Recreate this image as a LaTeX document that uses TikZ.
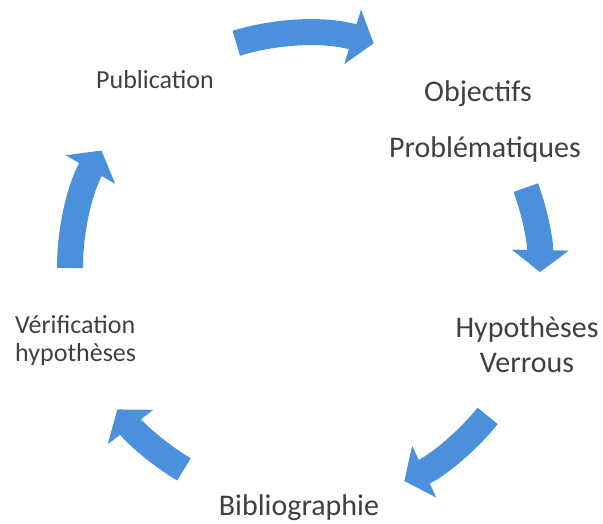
\documentclass[tikz,border=0pt]{standalone}
\usepackage{fontspec}
\setmainfont{Carlito}
\usetikzlibrary{arrows.meta, positioning}
\definecolor{cycblue}{RGB}{74,144,218}
\definecolor{txtgray}{RGB}{64,64,64}

\begin{document}
\begin{tikzpicture}[x=1pt, y=1pt,
    cycarrow/.style={line width=26pt, cycblue, -{Triangle[length=22pt, width=56pt]}},
    lbl/.style={text=txtgray, font=\fontsize{30}{36}\selectfont, inner sep=0pt},
    small/.style={font=\fontsize{26}{28}\selectfont}]
    \useasboundingbox (0,0) rectangle (603,523);
    \coordinate (c) at (305,255);

    % labels around the cycle
    \node[lbl, small, anchor=base west] (pub) at (96,434) {Publication};
    \node[lbl, anchor=base] (obj) at (478,421) {Objectifs};
    \node[lbl, anchor=base] (prob) at (485,365) {Problématiques};
    \node[lbl, anchor=base, align=center] (hyp) at (527,150) {Hypothèses\\Verrous};
    \node[lbl, anchor=base] (bib) at (299,8) {Bibliographie};
    \node[lbl, small, anchor=base west, align=left] (verif) at (15,162)
        {Vérification\\hypothèses};

    % curved arrows on one circle
    \draw[cycarrow] ([shift={(107:235)}]c) arc[start angle=107, end angle=73, radius=235];
    \draw[cycarrow] ([shift={(20:235)}]c) arc[start angle=20, end angle=-1, radius=235];
    \draw[cycarrow] ([shift={(-39:235)}]c) arc[start angle=-39, end angle=-65, radius=235];
    \draw[cycarrow] ([shift={(-121:235)}]c) arc[start angle=-121, end angle=-143, radius=235];
    \draw[cycarrow] ([shift={(180:235)}]c) arc[start angle=180, end angle=150, radius=235];
\end{tikzpicture}
\end{document}
